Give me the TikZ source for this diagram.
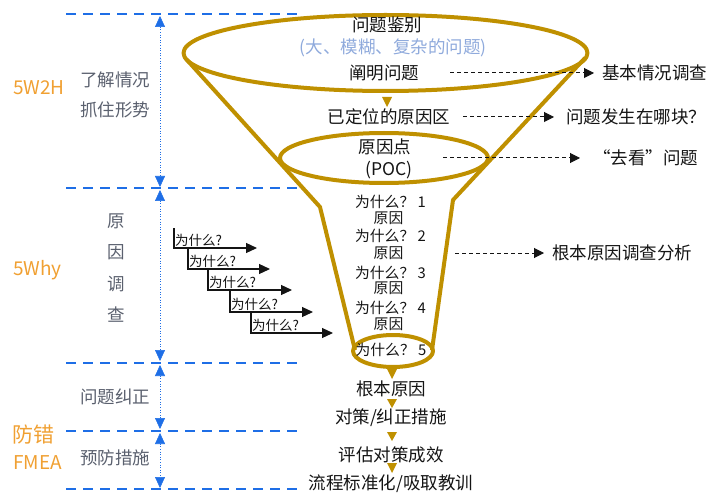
\documentclass[tikz,border=0pt]{standalone}
\usepackage{fontspec}
\setmainfont{Noto Sans CJK SC}
\usetikzlibrary{arrows.meta}
\definecolor{gold}{RGB}{191,144,0}
\definecolor{guide}{RGB}{30,110,230}
\definecolor{orng}{RGB}{240,160,50}
\definecolor{slate}{RGB}{90,96,110}
\definecolor{paleblue}{RGB}{143,170,220}
\definecolor{ink}{RGB}{20,20,20}
\begin{document}
\begin{tikzpicture}[x=1pt,y=-1pt,
  main/.style={font=\fontsize{17.5}{18}\selectfont, text=ink, inner sep=1pt},
  why/.style={font=\fontsize{14.8}{15}\selectfont, text=ink, inner sep=0.5pt},
  small/.style={font=\fontsize{13.5}{14}\selectfont, text=ink, inner sep=0pt, anchor=base west},
  side/.style={font=\fontsize{17.5}{18}\selectfont, text=slate},
  tag/.style={font=\fontsize{19}{20}\selectfont, text=orng, anchor=west, inner sep=0pt},
  guideline/.style={guide, line width=1.7pt, dash pattern=on 10pt off 7pt},
  span/.style={guide, line width=0.6pt, dotted, {Triangle[length=11pt,width=10pt]}-{Triangle[length=11pt,width=10pt]}},
  funnel/.style={gold, line width=4pt, line join=round},
  tri/.style={fill=gold},
  note/.style={ink, line width=1pt, dash pattern=on 4pt off 3pt, -{Triangle[length=10pt,width=10pt]}},
  stair/.style={ink, line width=1.2pt, -{Triangle[length=11pt,width=10pt]}}
]
\useasboundingbox (0,0) rectangle (708,494);

% guide lines
\foreach \yy in {14,188,363,431,489} \draw[guideline] (66,\yy) -- (298,\yy);
\draw[span] (160,16) -- (160,187);
\draw[span] (160,190) -- (160,361);
\draw[span] (160,365) -- (160,429);
\draw[span] (160,433) -- (160,488);

% left labels
\node[tag] (t5w2h) at (13,88) {5W2H};
\node[tag] (t5why) at (13,270) {5Why};
\node[tag, font=\fontsize{21}{22}\selectfont] (tfc) at (12,435) {防错};
\node[tag] (tfmea) at (13,463) {FMEA};

\node[side] (s1) at (115,80) {了解情况};
\node[side] (s2) at (115,110) {抓住形势};
\node[side] (s3) at (116,221) {原};
\node[side] (s4) at (116,252) {因};
\node[side] (s5) at (116,284) {调};
\node[side] (s6) at (116,315) {查};
\node[side] (s7) at (115,397) {问题纠正};
\node[side] (s8) at (115,458) {预防措施};

% funnel
\draw[funnel] (187,60) -- (320,207) -- (355,350);
\draw[funnel] (585,58) -- (453,200) -- (432,350);
\draw[funnel] (385.5,53) ellipse [x radius=202, y radius=38];
\draw[funnel] (384,158) ellipse [x radius=104, y radius=25];
\draw[funnel] (393,351) ellipse [x radius=40, y radius=16];

% funnel texts
\node[main] (identify) at (387,25) {问题鉴别};
\node[main, text=paleblue] (vague) at (393,48) {(大、模糊、复杂的问题)};
\node[main] (clarify) at (384,73) {阐明问题};
\node[main] (area) at (389,117) {已定位的原因区};
\node[main] (poc) at (385,147) {原因点};
\node[main] (pocabbr) at (389,170) {(POC)};

\node[why] (w1) at (390.5,202) {为什么？ 1};
\node[why] (r1) at (388.5,218) {原因};
\node[why] (w2) at (390.5,236) {为什么？ 2};
\node[why] (r2) at (388.5,253) {原因};
\node[why] (w3) at (390.5,273) {为什么？ 3};
\node[why] (r3) at (388.5,288) {原因};
\node[why] (w4) at (390.5,308) {为什么？ 4};
\node[why] (r4) at (388.5,324) {原因};
\node[why] (w5) at (391,350) {为什么？ 5};

\node[main] (root) at (391,389) {根本原因};
\node[main] (fix) at (391,418) {对策/纠正措施};
\node[main] (eval) at (391,455) {评估对策成效};
\node[main] (std) at (391,484) {流程标准化/吸取教训};

% gold triangles
\fill[tri] (382,97) -- (392,97) -- (387,107) -- cycle;
\fill[tri] (387,369) -- (397,369) -- (392,379) -- cycle;
\fill[tri] (387,399) -- (397,399) -- (392,408) -- cycle;
\fill[tri] (387,432) -- (397,432) -- (392,441) -- cycle;
\fill[tri] (387,463) -- (397,463) -- (392,473) -- cycle;

% right annotations
\node[main, anchor=west] (survey) at (601,73) {基本情况调查};
\node[main, anchor=west] (where) at (565,117) {问题发生在哪块？};
\node[main, anchor=west] (look) at (592,158) {“去看”问题};
\node[main, anchor=west] (rca) at (551,253) {根本原因调查分析};

\coordinate (n1) at (450,73);
\coordinate (n2) at (463,117);
\coordinate (n3) at (443,158);
\coordinate (n4) at (455,253);
\draw[note, shorten >=7pt] (n1) -- (survey.west);
\draw[note, shorten >=11pt] (n2) -- (where.west);
\draw[note, shorten >=12pt] (n3) -- (look.west);
\draw[note, shorten >=7pt] (n4) -- (rca.west);

% why staircase
\node[small] (q1) at (175,245) {为什么?};
\node[small] (q2) at (189,266) {为什么?};
\node[small] (q3) at (209,287) {为什么?};
\node[small] (q4) at (231,309) {为什么?};
\node[small] (q5) at (252,330) {为什么?};
\coordinate (a0) at (174,228);
\coordinate (a1) at (174,248); \coordinate (b1) at (257,248);
\coordinate (a2) at (188,269); \coordinate (b2) at (270,269);
\coordinate (a3) at (208,290); \coordinate (b3) at (292,290);
\coordinate (a4) at (230,312); \coordinate (b4) at (313,312);
\coordinate (a5) at (251,333); \coordinate (b5) at (333,333);
\draw[stair] (a0) -- (a1) -- (b1);
\draw[stair] (a1 -| a2) -- (a2) -- (b2);
\draw[stair] (a2 -| a3) -- (a3) -- (b3);
\draw[stair] (a3 -| a4) -- (a4) -- (b4);
\draw[stair] (a4 -| a5) -- (a5) -- (b5);
\end{tikzpicture}
\end{document}
